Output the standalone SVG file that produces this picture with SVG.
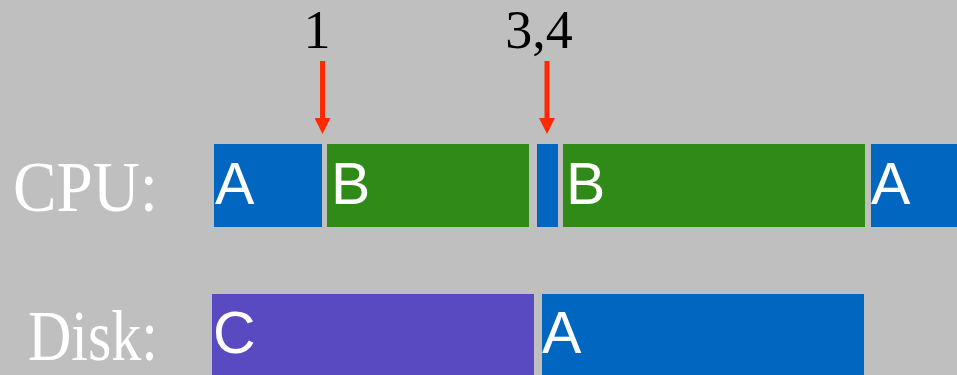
<svg xmlns="http://www.w3.org/2000/svg" width="957" height="375" viewBox="0 0 957 375">
  <style>
    .row { font-family: "Liberation Serif", "Times New Roman", serif; font-size: 72px; fill: #ffffff; }
    .mark { font-family: "Liberation Serif", "Times New Roman", serif; font-size: 54px; fill: #000000; text-anchor: middle; }
    .tag { font-family: "Liberation Sans", Arial, sans-serif; font-size: 59px; fill: #ffffff; }
    .a { fill: #0066C0; }
    .b { fill: #2F8A17; }
    .c { fill: #5A4AC2; }
    .arrow { stroke: #FF2A00; stroke-width: 5; fill: none; }
  </style>
  <defs>
    <marker id="head" markerWidth="3.2" markerHeight="3.2" refX="0" refY="1.6" orient="auto" markerUnits="strokeWidth" viewBox="0 0 3.2 3.2">
      <path d="M0,0 L3.2,1.6 L0,3.2 z" fill="#FF2A00"/>
    </marker>
  </defs>
  <rect width="957" height="375" fill="#BFBFBF"/>

  <!-- row labels -->
  <text class="row" x="13" y="211" textLength="145" lengthAdjust="spacingAndGlyphs">CPU:</text>
  <text class="row" x="28" y="360" textLength="130" lengthAdjust="spacingAndGlyphs">Disk:</text>

  <!-- CPU timeline -->
  <g id="cpu-a1"><rect class="a" x="214" y="144" width="108" height="83"/><text class="tag" x="215" y="204">A</text></g>
  <g id="cpu-b1"><rect class="b" x="327" y="144" width="202" height="83"/><text class="tag" x="331" y="204">B</text></g>
  <g id="cpu-a-short"><rect class="a" x="537" y="144" width="21" height="83"/></g>
  <g id="cpu-b2"><rect class="b" x="563" y="144" width="302" height="83"/><text class="tag" x="566" y="204">B</text></g>
  <g id="cpu-a2"><rect class="a" x="871" y="144" width="86" height="83"/><text class="tag" x="871" y="204">A</text></g>

  <!-- Disk timeline -->
  <g id="disk-c"><rect class="c" x="212" y="294" width="322" height="81"/><text class="tag" x="213" y="353">C</text></g>
  <g id="disk-a"><rect class="a" x="542" y="294" width="322" height="81"/><text class="tag" x="542" y="353">A</text></g>

  <!-- event markers -->
  <text class="mark" x="317" y="48">1</text>
  <text class="mark" x="539" y="48">3,4</text>
  <g id="connectors">
    <line class="arrow" x1="322.5" y1="61" x2="322.5" y2="118" marker-end="url(#head)"/>
    <line class="arrow" x1="547" y1="61" x2="547" y2="118" marker-end="url(#head)"/>
  </g>
</svg>
